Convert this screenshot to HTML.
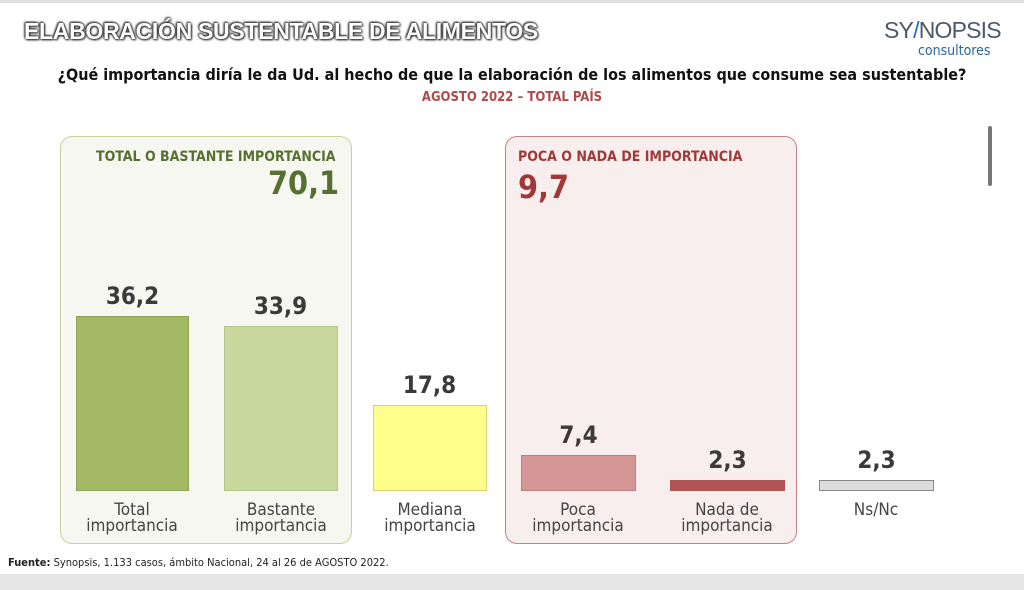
<!DOCTYPE html><html><head><meta charset="utf-8"><style>
body{margin:0;width:1024px;height:590px;background:#fff;position:relative;overflow:hidden;font-family:"DejaVu Sans Condensed","Liberation Sans Narrow","Liberation Sans",sans-serif}
.a{position:absolute}
.v{position:absolute;font-weight:bold;font-size:24px;color:#3a3a3a;text-align:center;width:115px}
.l{position:absolute;font-size:17px;color:#444;text-align:center;width:150px;line-height:16px}
.bar{position:absolute;box-sizing:border-box}
</style></head><body>
<div class="a" style="left:0;top:0;width:1024px;height:3px;background:#e0e0e0"></div>
<div class="a" style="left:0;top:574px;width:1024px;height:16px;background:#e6e6e6"></div>
<div class="a" style="left:24px;top:18px;font-family:'Liberation Sans',sans-serif;font-weight:bold;font-size:23px;color:#fff;text-shadow:0 0 2px #333,0 0 2px #333,1px 1px 2px #333,-1px -1px 2px #333;letter-spacing:-0.3px">ELABORACIÓN SUSTENTABLE DE ALIMENTOS</div>
<div class="a" style="left:884px;top:17px;font-family:'Liberation Sans',sans-serif;font-size:23px;color:#4a5a6a;letter-spacing:-0.8px">SY<span style="color:#1e6fb5">/</span>NOPSIS</div>
<div class="a" style="left:918px;top:43px;font-size:14px;color:#2a66a0">consultores</div>
<div class="a" style="left:0;width:1024px;top:65px;text-align:center;font-weight:bold;font-size:16px;color:#111">¿Qué importancia diría le da Ud. al hecho de que la elaboración de los alimentos que consume sea sustentable?</div>
<div class="a" style="left:0;width:1024px;top:90px;text-align:center;font-weight:bold;font-size:13px;color:#b04848">AGOSTO 2022 – TOTAL PAÍS</div>
<div class="a" style="left:988px;top:126px;width:4px;height:60px;background:#777;border-radius:2px"></div>
<div class="a" style="left:60px;top:136px;width:292px;height:408px;box-sizing:border-box;border:1.5px solid #c4d49a;border-radius:12px;background:#f6f7f1"></div>
<div class="a" style="left:505px;top:136px;width:292px;height:408px;box-sizing:border-box;border:1.5px solid #c88080;border-radius:12px;background:#f8eeee"></div>
<div class="a" style="left:96px;top:149px;font-weight:bold;font-size:14px;color:#557030">TOTAL O BASTANTE IMPORTANCIA</div>
<div class="a" style="left:268px;top:164px;font-weight:bold;font-size:32px;color:#557030">70,1</div>
<div class="a" style="left:518px;top:149px;font-weight:bold;font-size:14px;color:#a03838">POCA O NADA DE IMPORTANCIA</div>
<div class="a" style="left:518px;top:168px;font-weight:bold;font-size:32px;color:#a03838">9,7</div>
<div class="bar" style="left:76px;top:316px;width:113px;height:175px;background:#a2b865;border:1px solid #8fa455"></div>
<div class="bar" style="left:224px;top:326px;width:114px;height:165px;background:#c8d89f;border:1px solid #b5c88a"></div>
<div class="bar" style="left:373px;top:405px;width:114px;height:86px;background:#fefe8c;border:1px solid #e0d070"></div>
<div class="bar" style="left:521px;top:455px;width:115px;height:36px;background:#d49696;border:1px solid #c07c7c"></div>
<div class="bar" style="left:670px;top:480px;width:115px;height:11px;background:#b05454"></div>
<div class="bar" style="left:819px;top:480px;width:115px;height:11px;background:#dcdcdc;border:1px solid #888"></div>
<div class="v" style="left:75px;top:282px">36,2</div>
<div class="v" style="left:223px;top:292px">33,9</div>
<div class="v" style="left:372px;top:371px">17,8</div>
<div class="v" style="left:521px;top:421px">7,4</div>
<div class="v" style="left:670px;top:446px">2,3</div>
<div class="v" style="left:819px;top:446px">2,3</div>
<div class="l" style="left:57px;top:502px">Total<br>importancia</div>
<div class="l" style="left:206px;top:502px">Bastante<br>importancia</div>
<div class="l" style="left:355px;top:502px">Mediana<br>importancia</div>
<div class="l" style="left:503px;top:502px">Poca<br>importancia</div>
<div class="l" style="left:652px;top:502px">Nada de<br>importancia</div>
<div class="l" style="left:801px;top:502px">Ns/Nc</div>
<div class="a" style="left:8px;top:556px;font-size:11px;color:#222"><b>Fuente:</b> Synopsis, 1.133 casos, ámbito Nacional, 24 al 26 de AGOSTO 2022.</div>
</body></html>
